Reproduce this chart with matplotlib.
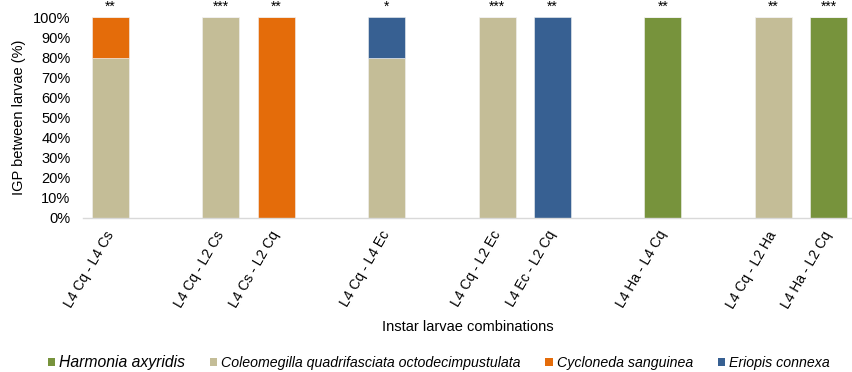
import numpy as np
import matplotlib
matplotlib.use('Agg')
import matplotlib.pyplot as plt
from matplotlib.patches import Patch

plt.rcParams['font.family'] = ['Liberation Sans', 'DejaVu Sans']

# Larval pairings (blank slots keep the gaps between groups)
combos = ['L4 Cq - L4 Cs', '', 'L4 Cq - L2 Cs', 'L4 Cs - L2 Cq', '',
          'L4 Cq - L4 Ec', '', 'L4 Cq - L2 Ec', 'L4 Ec - L2 Cq', '',
          'L4 Ha - L4 Cq', '', 'L4 Cq - L2 Ha', 'L4 Ha - L2 Cq']

# IGP share (%) won by each species
harmonia = [0, 0, 0, 0, 0, 0, 0, 0, 0, 0, 100, 0, 0, 100]
coleomegilla = [80, 0, 100, 0, 0, 80, 0, 100, 0, 0, 0, 0, 100, 0]
cycloneda = [20, 0, 0, 100, 0, 0, 0, 0, 0, 0, 0, 0, 0, 0]
eriopis = [0, 0, 0, 0, 0, 20, 0, 0, 100, 0, 0, 0, 0, 0]

signif = ['**', '', '***', '**', '', '*', '', '***', '**', '', '**', '', '**', '***']

species = ['Harmonia axyridis', 'Coleomegilla quadrifasciata octodecimpustulata',
           'Cycloneda sanguinea', 'Eriopis connexa']
colors = ['#77933C', '#C4BD97', '#E46C0A', '#376092']

fig = plt.figure(figsize=(8.52, 3.72), dpi=100)
ax = fig.add_axes([0.0973, 0.414, 0.9075, 0.539])

x = np.arange(len(combos))
bottom = np.zeros(len(combos))
for vals, c in zip([harmonia, coleomegilla, cycloneda, eriopis], colors):
    vals = np.array(vals, dtype=float)
    ax.bar(x, vals, width=0.67, bottom=bottom, color=c,
           edgecolor='#F2F2F2', linewidth=0.4)
    bottom += vals

for xi, s in zip(x, signif):
    if s:
        ax.text(xi, 103.2, s, ha='center', va='baseline', fontsize=10,
                clip_on=False)

ax.set_xlim(-0.5, len(combos) - 0.5)
ax.set_ylim(0, 100)
ax.set_yticks(np.arange(0, 101, 10))
ax.set_yticklabels([f'{v}%' for v in range(0, 101, 10)], fontsize=10.5)
ax.set_xticks(x)
ax.set_xticklabels(combos, rotation=60, ha='right', va='center',
                   rotation_mode='anchor', fontsize=10)
ax.tick_params(axis='both', length=0)
ax.tick_params(axis='y', pad=9)
ax.tick_params(axis='x', pad=10)

for side in ['top', 'right', 'left']:
    ax.spines[side].set_visible(False)
ax.spines['bottom'].set_color('#D9D9D9')
ax.spines['bottom'].set_linewidth(1)

ax.set_ylabel('IGP between larvae (%)', fontsize=10.5)
ax.yaxis.set_label_coords(-0.0737, 0.5)
ax.set_xlabel('Instar larvae combinations', fontsize=10.5)
ax.xaxis.set_label_coords(0.498, -0.509)

handles = [Patch(facecolor=c, edgecolor='none') for c in colors]
leg = fig.legend(handles, species, loc='center', bbox_to_anchor=(0.515, 0.026),
                 ncol=4, frameon=False, handlelength=0.5,
                 handleheight=0.5, handletextpad=0.3, columnspacing=1.75,
                 prop={'style': 'italic', 'size': 10.2})
leg.get_texts()[0].set_fontsize(11.3)

fig.savefig('out.png', dpi=100)
